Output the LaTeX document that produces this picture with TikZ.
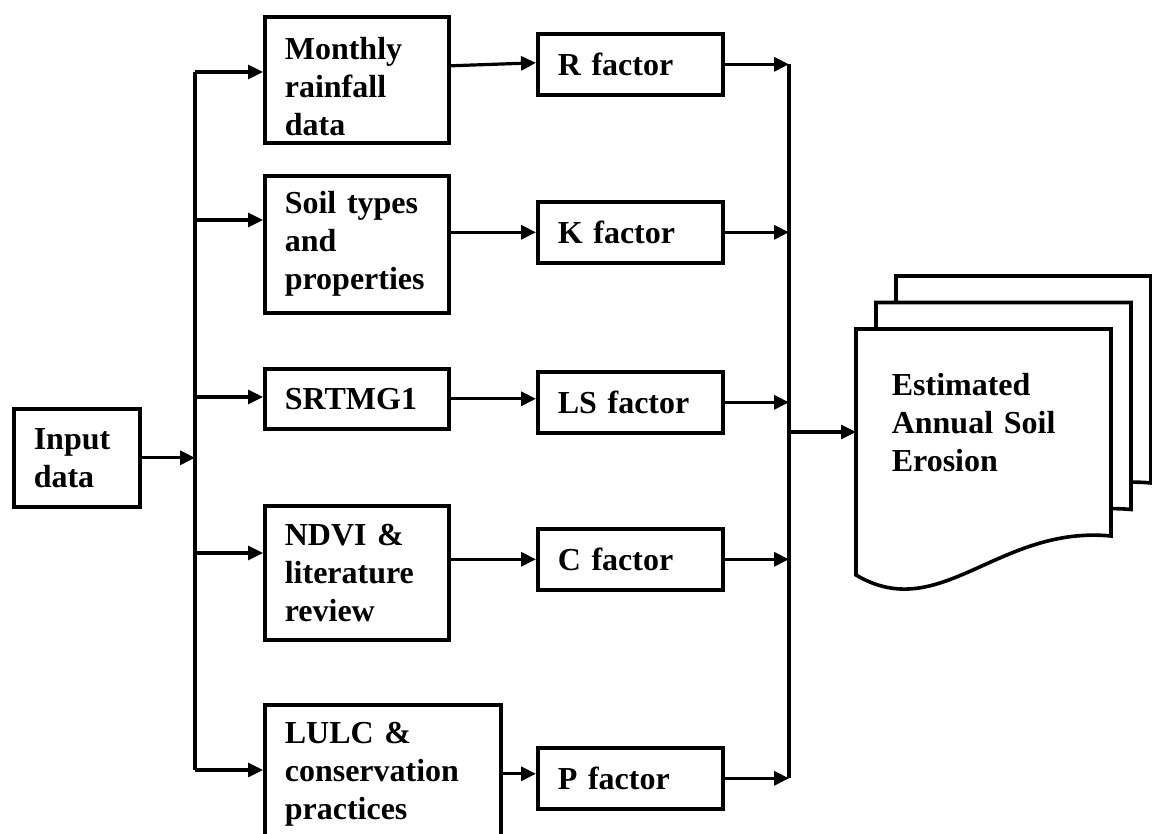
\documentclass[tikz,border=0pt]{standalone}
\usepackage{fontspec}
\setmainfont{Liberation Serif}
\usetikzlibrary{arrows.meta,positioning,calc}
\tikzset{
  >={Triangle[length=7.5pt,width=7pt]},
  box/.style={draw,line width=1.8pt,anchor=north west,align=left,
    inner xsep=10pt,font=\fontsize{16}{19}\selectfont\bfseries},
  factor/.style={box,minimum height=30.5pt,text width=72.5pt},
  flow/.style={->,line width=1.6pt},
  bus/.style={line width=1.6pt},
  % stacked output sheet
  pics/page/.style={code={
    \draw[line width=1.8pt,fill=white] (0,0) -- (255,0) -- (255,207)
      .. controls (142,196) and (84,296) .. (0,246) -- cycle;
  }},
}
\begin{document}
\begin{tikzpicture}[x=0.5pt,y=-0.5pt]
  \clip (0,0) rectangle (1152,834);
  % data sources
  \node[box,text width=43pt,minimum height=49pt] (input) at (12,407) {Input\\data};
  \node[box,text width=72pt,minimum height=63pt] (rain) at (263,15) {\rule{0pt}{18pt}Monthly\\rainfall\\data};
  \node[box,text width=72pt,minimum height=68.5pt] (soil) at (263,174) {Soil types\\and\\properties};
  \node[box,text width=72pt,minimum height=30pt] (srtm) at (263,367) {SRTMG1};
  \node[box,text width=72pt,minimum height=67pt] (ndvi) at (263,504) {NDVI \&\\literature\\review};
  \node[box,text width=98pt,minimum height=69pt] (lulc) at (263,703) {LULC \&\\conservation\\practices};
  % factors
  \node[factor] (rfac) at (536,32) {R factor};
  \node[factor] (kfac) at (536,200) {K factor};
  \node[factor] (lsfac) at (536,370) {LS factor};
  \node[factor] (cfac) at (536,527) {C factor};
  \node[factor] (pfac) at (536,746) {P factor};
  % result
  \foreach \dx/\dy in {40/-53,20/-26.5,0/0}
    \pic at (856+\dx,329+\dy) {page};
  \node[box,draw=none,inner xsep=17pt,text width=93.5pt,minimum height=103.5pt] (result) at (856,329)
    {Estimated\\Annual Soil\\Erosion\rule[-12pt]{0pt}{12pt}};
  % left bus
  \foreach \n/\y in {rain/72,soil/220,srtm/397,ndvi/553,lulc/770}{
    \coordinate (b-\n) at (195,\y);
    \draw[flow] (b-\n) -- (b-\n -| \n.west);
  }
  \draw[bus] (b-rain) -- (b-lulc);
  \draw[flow] (input.east) -- (input.east -| b-rain);
  % sources to factors
  \draw[flow] ([yshift=7pt]rain.east) -- ([yshift=0.75pt]rfac.west);
  \draw[flow] (soil.east |- kfac.west) -- (kfac.west);
  \draw[flow] (srtm.east) -- (srtm.east -| lsfac.west);
  \draw[flow] (ndvi.east |- cfac.west) -- (cfac.west);
  \draw[flow] (lulc.east) -- (lulc.east -| pfac.west);
  % right bus
  \coordinate (rbus) at (789,432);
  \foreach \n in {rfac,kfac,lsfac,cfac,pfac}
    \draw[flow] (\n.east) -- (\n.east -| rbus);
  \draw[bus] (rfac.east -| rbus) -- (pfac.east -| rbus);
  \draw[flow] (rbus) -- (rbus -| result.west);
\end{tikzpicture}
\end{document}
